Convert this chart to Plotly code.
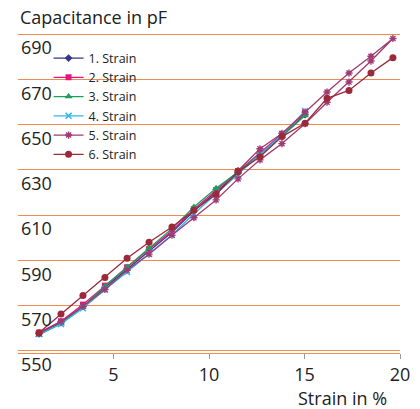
import plotly.graph_objects as go

# Strain positions (%) of the measurement points
strain = [1.10, 2.25, 3.40, 4.55, 5.71, 6.86, 8.06, 9.21, 10.37, 11.52,
          12.67, 13.82, 15.03, 16.18, 17.33, 18.48, 19.63]

# Capacitance in pF for each strain cycle
cap_1 = [557.6, 562.4, 569.6, 578.0, 586.0, 594.0, 602.4, 611.8, 620.2, 628.7, 637.1, 645.1, 654.4]
cap_2 = [558.0, 563.0, 570.4, 578.8, 586.9, 594.9, 603.1, 612.6, 621.0, 629.5, 637.6, 645.8, 655.2]
cap_3 = [557.0, 562.0, 569.4, 578.5, 587.0, 595.4, 604.0, 613.6, 621.8, 629.0, 636.8, 644.8, 654.0]
cap_4 = [557.4, 561.8, 568.8, 577.0, 584.8, 592.8, 601.2, 610.6, 619.4, 627.8, 636.5, 645.5, 656.0]
cap_5 = [557.6, 562.9, 569.6, 577.1, 585.6, 592.7, 601.1, 608.8, 616.7, 626.0, 634.4, 641.6,
         650.4, 659.9, 668.8, 678.1, 688.1]
strain_5_back = [18.48, 17.33, 16.18, 15.03, 13.82, 12.67, 11.52]
cap_5_back = [680.2, 672.8, 664.4, 655.5, 646.1, 639.3, 629.6]
cap_6 = [558.0, 566.2, 574.4, 582.4, 590.9, 598.0, 604.7, 612.1, 619.2, 629.1, 635.8, 644.7,
         650.6, 661.6, 665.1, 672.8, 679.6]

names = ["1. Strain", "2. Strain", "3. Strain", "4. Strain", "5. Strain", "6. Strain"]
y_ticks = [550, 570, 590, 610, 630, 650, 670, 690]
x_ticks = [5, 10, 15, 20]
y_range = [549.0, 690.5]

ORANGE = "#F08A4E"
TXT = "#222222"
FONT = "Open Sans"

fig = go.Figure()

def add(name, xs, ys, color, symbol, size, lw_marker=0):
    marker = dict(symbol=symbol, size=size, color=color)
    if lw_marker:
        marker["line"] = dict(color=color, width=lw_marker)
    fig.add_trace(go.Scatter(x=xs, y=ys, name=name, mode="lines+markers",
                             line=dict(color=color, width=1.3), marker=marker))

add(names[0], strain[:len(cap_1)], cap_1, "#34348A", "diamond", 6)
add(names[1], strain[:len(cap_2)], cap_2, "#E5147F", "square", 6)
add(names[2], strain[:len(cap_3)], cap_3, "#1E9E5A", "triangle-up", 7)
add(names[3], strain[:len(cap_4)], cap_4, "#2EB6EA", "x-thin-open", 6, 1.6)
add(names[4], strain + strain_5_back, cap_5 + cap_5_back, "#A03A72", "asterisk-open", 6, 1.4)
add(names[5], strain, cap_6, "#9A2A3A", "circle", 7)

# the page adds an 8px body margin, so the figure is 8px smaller than the window
fig.update_layout(
    width=412, height=401,
    margin=dict(l=10, r=20, t=25, b=56),
    paper_bgcolor="white", plot_bgcolor="white",
    font=dict(family=FONT, size=18, color=TXT),
    showlegend=True,
    legend=dict(x=0.08, y=0.9675, xanchor="left", yanchor="top",
                bgcolor="rgba(0,0,0,0)", font=dict(size=12.5, color=TXT),
                tracegroupgap=0, itemwidth=30),
    xaxis=dict(range=[0, 20], tickvals=x_ticks, showgrid=False, zeroline=False,
               showline=True, linecolor=ORANGE, linewidth=1.3,
               ticks="outside", ticklen=5, tickcolor="#999999",
               tickfont=dict(size=18, color=TXT)),
    yaxis=dict(range=y_range, tickvals=y_ticks, showgrid=True, gridcolor=ORANGE,
               gridwidth=1.3, zeroline=False, showline=False, ticks="",
               ticklabelposition="inside", ticklabeloverflow="allow",
               ticklabelshift=14, automargin=False, tickfont=dict(size=18, color=TXT)),
    annotations=[
        dict(text="Capacitance in pF", xref="paper", yref="paper", x=0, y=1.05,
             xanchor="left", yanchor="middle", showarrow=False,
             font=dict(size=18, color=TXT, family=FONT)),
        dict(text="Strain in %", xref="paper", yref="paper", x=0.971, y=-0.14,
             xanchor="right", yanchor="middle", showarrow=False,
             font=dict(size=18, color=TXT, family=FONT)),
    ],
)

fig.write_html("out.html")
